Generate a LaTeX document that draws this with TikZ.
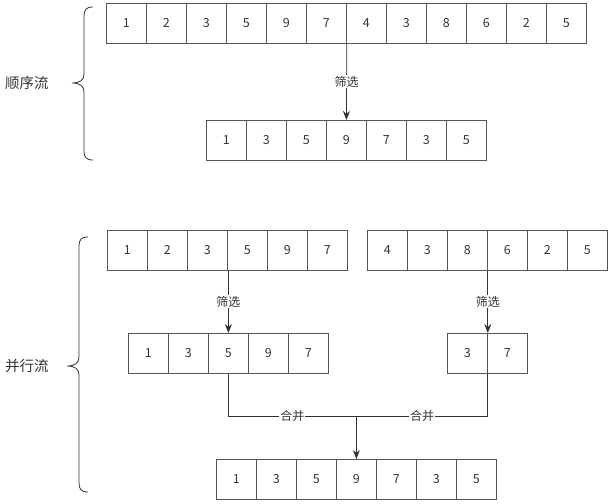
\documentclass[tikz,border=0pt]{standalone}
\usepackage{fontspec}
\setmainfont{Noto Sans CJK SC}
\usetikzlibrary{arrows.meta}
\definecolor{linegray}{HTML}{333333}
\definecolor{boxgray}{HTML}{555555}
\tikzset{
  cell/.style={draw=boxgray,line width=0.8pt,minimum size=40pt,inner sep=0pt,
    anchor=north west,text=linegray,font=\fontsize{12.5}{14}\selectfont},
  flow/.style={draw=linegray,line width=0.8pt},
  tag/.style={fill=white,inner sep=1pt,text=linegray,font=\fontsize{12}{14}\selectfont},
  side/.style={text=linegray,font=\fontsize{14.5}{16}\selectfont}
}
\begin{document}
\begin{tikzpicture}[x=1pt,y=-1pt,>={Stealth[length=9pt,width=7pt]}]
\useasboundingbox (0,0) rectangle (615,503);
% sequential stream
\foreach \v [count=\i] in {1,2,3,5,9,7,4,3,8,6,2,5}
  \node[cell] (a\i) at (106+40*\i-40,3) {\v};
\foreach \v [count=\i] in {1,3,5,9,7,3,5}
  \node[cell] (b\i) at (206+40*\i-40,120) {\v};
\draw[flow,->] (a6.south east) -- node[tag]{筛选} (b4.north);
\draw[flow] (93,7) .. controls (86,7) and (84,10) .. (84,16) -- (84,74)
  .. controls (84,80) and (80,83) .. (72,83)
  .. controls (80,83) and (84,86) .. (84,92) -- (84,151)
  .. controls (84,157) and (86,160) .. (93,160);
\node[side] (seq) at (27,83) {顺序流};
% parallel stream
\foreach \v [count=\i] in {1,2,3,5,9,7}
  \node[cell] (c\i) at (107+40*\i-40,230) {\v};
\foreach \v [count=\i] in {4,3,8,6,2,5}
  \node[cell] (d\i) at (367+40*\i-40,230) {\v};
\foreach \v [count=\i] in {1,3,5,9,7}
  \node[cell] (e\i) at (128+40*\i-40,333) {\v};
\foreach \v [count=\i] in {3,7}
  \node[cell] (f\i) at (447+40*\i-40,333) {\v};
\foreach \v [count=\i] in {1,3,5,9,7,3,5}
  \node[cell] (g\i) at (216+40*\i-40,459) {\v};
\draw[flow,->] (e3.north |- c3.south) -- node[tag]{筛选} (e3.north);
\draw[flow,->] (d3.south east) -- node[tag]{筛选} (f1.north east);
\coordinate (m) at (g4.north |- 0,416);
\draw[flow] (e3.south) |- node[tag,pos=0.75]{合并} (m);
\draw[flow] (f1.south east) |- node[tag,pos=0.75]{合并} (m);
\draw[flow,->] (m) -- (g4.north);
\draw[flow] (88,237) .. controls (81,237) and (79,240) .. (79,246) -- (79,357)
  .. controls (79,363) and (75,366) .. (67,366)
  .. controls (75,366) and (79,369) .. (79,375) -- (79,483)
  .. controls (79,489) and (81,492) .. (88,492);
\node[side] (par) at (27,366) {并行流};
\end{tikzpicture}
\end{document}
